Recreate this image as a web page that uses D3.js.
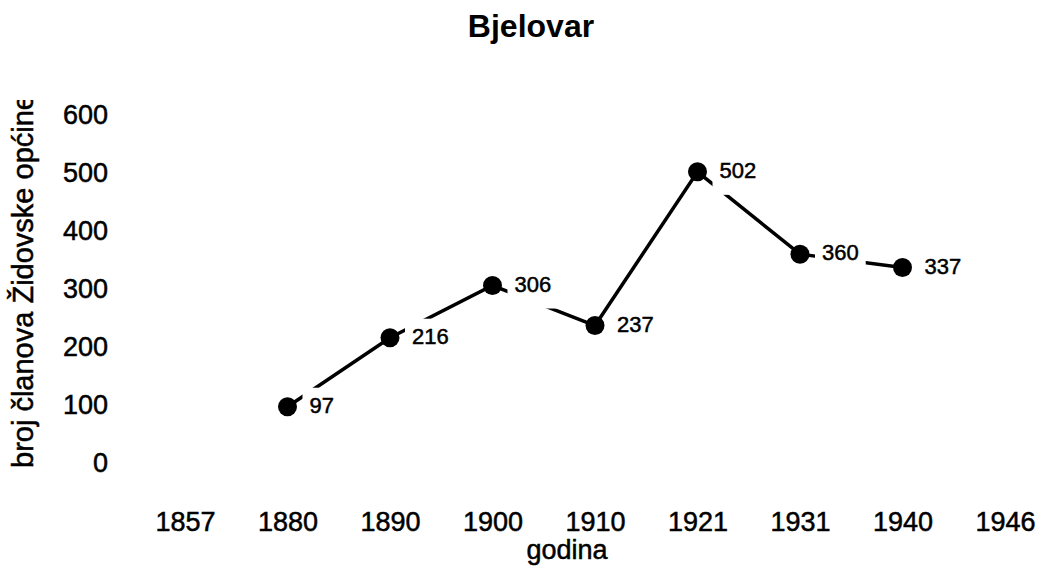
<!DOCTYPE html>
<html>
<head>
<meta charset="utf-8">
<script src="https://cdn.jsdelivr.net/npm/d3@7"></script>
<style>
  body { margin: 0; background: #fff; }
  text { font-family: "Liberation Sans", Arial, Helvetica, sans-serif; fill: #000; }
  .heavy { stroke: #000; stroke-width: 0.5px; }
</style>
</head>
<body>
<div id="chart"></div>
<script>
// data
var years = ["1857", "1880", "1890", "1900", "1910", "1921", "1931", "1940", "1946"];
var members = [null, 97, 216, 306, 237, 502, 360, 337, null];
var yTicks = [0, 100, 200, 300, 400, 500, 600];

var W = 1040, H = 570;

var svg = d3.select("#chart").append("svg")
  .attr("width", W)
  .attr("height", H);

var x = d3.scalePoint().domain(years).range([185, 1005]);
var y = d3.scaleLinear().domain([0, 600]).range([463, 115]);

// title
svg.append("text")
  .attr("x", 531).attr("y", 37)
  .attr("text-anchor", "middle")
  .style("font-size", "32px").style("font-weight", "bold")
  .text("Bjelovar");

// y axis (labels only)
var yAxis = svg.append("g")
  .attr("transform", "translate(118,0)")
  .call(d3.axisLeft(y).tickValues(yTicks).tickSize(0).tickPadding(10));
yAxis.select(".domain").remove();
yAxis.selectAll("text")
  .attr("class", "heavy")
  .style("font-size", "27px")
  .style("font-family", "'Liberation Sans', Arial, sans-serif");

// x axis (labels only)
var xAxis = svg.append("g")
  .attr("transform", "translate(0,463)")
  .call(d3.axisBottom(x).tickSize(0));
xAxis.select(".domain").remove();
xAxis.selectAll("text")
  .attr("class", "heavy")
  .attr("y", 68).attr("dy", null)
  .style("font-size", "27px")
  .style("font-family", "'Liberation Sans', Arial, sans-serif");

// axis titles
svg.append("text")
  .attr("class", "heavy")
  .attr("x", 567).attr("y", 559)
  .attr("text-anchor", "middle")
  .style("font-size", "27px")
  .text("godina");

svg.append("clipPath").attr("id", "ytclip")
  .append("rect").attr("x", 0).attr("y", 100).attr("width", 60).attr("height", 400);

svg.append("g").attr("clip-path", "url(#ytclip)")
  .append("text")
  .attr("class", "heavy")
  .attr("transform", "translate(33,468) rotate(-90)")
  .style("font-size", "29px")
  .text("broj članova Židovske općine");

// series
var pts = years.map(function(d, i) { return { year: d, value: members[i] }; })
  .filter(function(d) { return d.value !== null; });

var line = d3.line()
  .x(function(d) { return x(d.year); })
  .y(function(d) { return y(d.value); });

svg.append("path")
  .datum(pts)
  .attr("d", line)
  .attr("fill", "none")
  .attr("stroke", "#000")
  .attr("stroke-width", 3.5);

// labels: white box behind (cuts the line like the original)
var labBox = svg.selectAll(".labbox").data(pts).enter().append("rect")
  .attr("class", "labbox")
  .attr("fill", "#fff");

svg.selectAll(".dot").data(pts).enter().append("circle")
  .attr("class", "dot")
  .attr("cx", function(d) { return x(d.year); })
  .attr("cy", function(d) { return y(d.value); })
  .attr("r", 9.5)
  .attr("fill", "#000");

var labText = svg.selectAll(".labt").data(pts).enter().append("text")
  .attr("class", "labt heavy")
  .attr("x", function(d) { return x(d.year) + 22; })
  .attr("y", function(d) { return y(d.value) + 6; })
  .style("font-size", "22px")
  .text(function(d) { return d.value; });

labText.each(function(d) {
  d.tw = this.getComputedTextLength();
});

labBox
  .attr("x", function(d) { return x(d.year) + 15; })
  .attr("y", function(d) { return y(d.value) - 19; })
  .attr("width", function(d) { return d.tw + 14; })
  .attr("height", 42);
</script>
</body>
</html>
